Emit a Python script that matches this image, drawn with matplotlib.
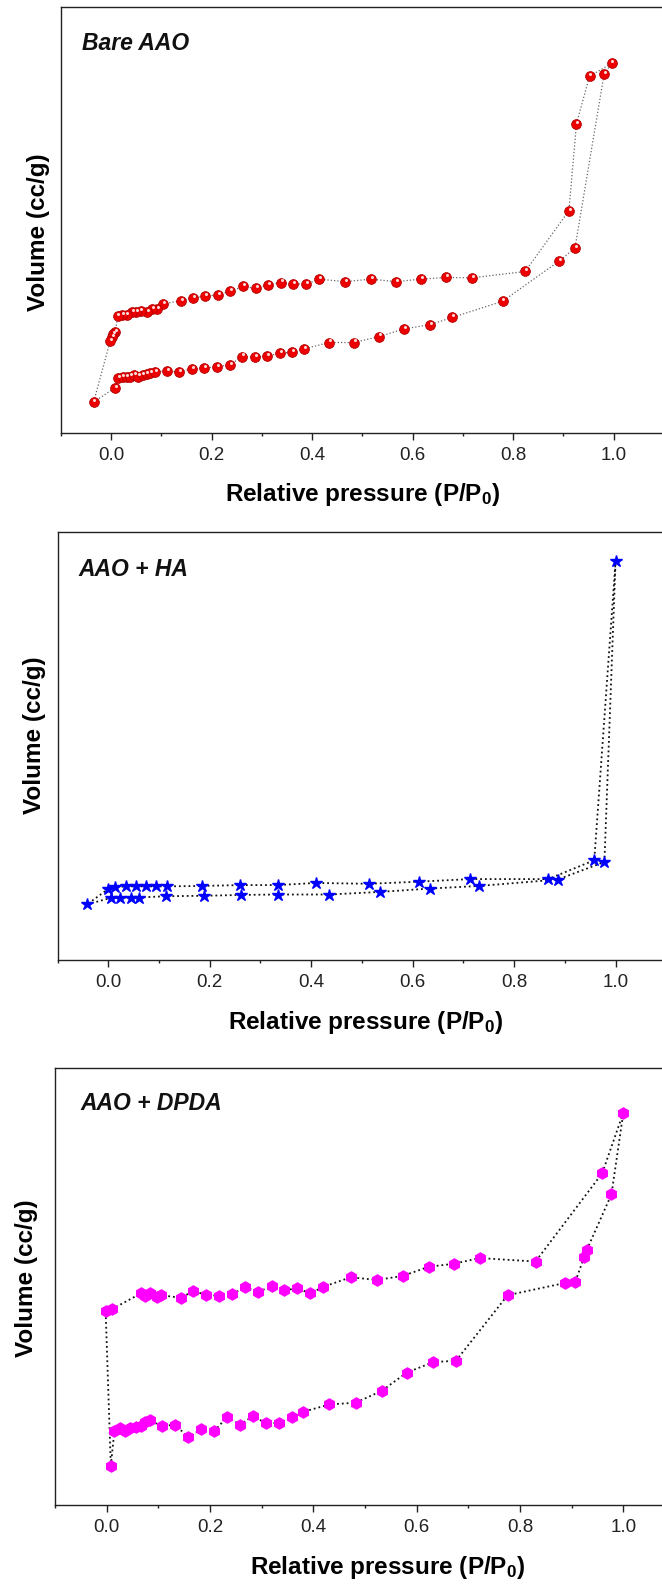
import matplotlib
matplotlib.use("Agg")
import matplotlib.pyplot as plt
from matplotlib.ticker import MultipleLocator, FormatStrFormatter
from matplotlib.transforms import offset_copy

# ---------------- data (relative pressure, volume in % of axis height) -------------
# Panel 1: Bare AAO
bare_ads_x = [-0.0345, 0.0086, 0.0146, 0.0232, 0.0312, 0.0378, 0.0458, 0.0544, 0.063, 0.071,
              0.0776, 0.087, 0.111, 0.136, 0.162, 0.186, 0.211, 0.237, 0.261, 0.286, 0.311,
              0.336, 0.361, 0.384, 0.434, 0.483, 0.534, 0.583, 0.635, 0.679, 0.779, 0.891,
              0.923, 0.981, 0.996]
bare_ads_y = [7.2, 10.6, 12.9, 13.0, 13.0, 13.2, 13.5, 13.2, 13.6, 13.8,
              14.0, 14.3, 14.5, 14.3, 15.0, 15.2, 15.5, 16.0, 17.9, 17.8, 18.0,
              18.7, 18.9, 19.7, 21.2, 21.2, 22.6, 24.4, 25.4, 27.1, 30.9, 40.3,
              43.4, 84.3, 86.8]
bare_des_x = [0.952, 0.926, 0.911, 0.824, 0.718, 0.666, 0.617, 0.567, 0.517, 0.466, 0.414,
              0.388, 0.363, 0.338, 0.312, 0.288, 0.263, 0.237, 0.213, 0.188, 0.163, 0.139,
              0.104, 0.0921, 0.0816, 0.0722, 0.059, 0.0497, 0.0418, 0.0312, 0.0219, 0.0133,
              0.0086, 0.0046, 0.0014, -0.0014]
bare_des_y = [83.8, 72.6, 52.2, 37.9, 36.4, 36.5, 36.1, 35.5, 36.1, 35.5, 36.1,
              34.9, 35.0, 35.3, 34.7, 33.9, 34.4, 33.2, 32.4, 32.1, 31.7, 31.0,
              30.3, 29.0, 29.1, 28.4, 28.7, 28.4, 28.4, 27.6, 27.6, 27.5,
              23.7, 23.1, 22.4, 21.6]

# Panel 2: AAO + HA
ha_ads_x = [-0.0416, 0.005, 0.023, 0.044, 0.061, 0.113, 0.188, 0.262, 0.334, 0.436, 0.535,
            0.635, 0.731, 0.886, 0.978, 1.0]
ha_ads_y = [13.0, 14.5, 14.6, 14.6, 14.6, 14.9, 15.0, 15.2, 15.3, 15.3, 15.9,
            16.7, 17.3, 18.8, 22.9, 93.2]
ha_des_x = [0.958, 0.867, 0.713, 0.612, 0.514, 0.41, 0.334, 0.260, 0.185, 0.115, 0.094,
            0.074, 0.054, 0.034, 0.013, 0.0]
ha_des_y = [23.3, 18.9, 18.9, 18.3, 17.8, 18.0, 17.5, 17.5, 17.3, 17.2, 17.2,
            17.2, 17.2, 17.2, 17.0, 16.6]

# Panel 3: AAO + DPDA
dp_ads_x = [0.008, 0.015, 0.025, 0.035, 0.045, 0.056, 0.066, 0.075, 0.083, 0.107, 0.132,
            0.158, 0.183, 0.208, 0.233, 0.258, 0.283, 0.309, 0.333, 0.359, 0.380, 0.431,
            0.482, 0.532, 0.581, 0.632, 0.676, 0.776, 0.887, 0.907, 0.924, 0.929, 0.977, 1.0]
dp_ads_y = [9.0, 17.0, 17.6, 16.9, 17.7, 17.8, 18.0, 19.0, 19.4, 18.0, 18.4,
            15.5, 17.3, 16.9, 20.1, 18.4, 20.3, 18.7, 18.8, 20.1, 21.3, 23.0,
            23.4, 26.1, 30.3, 32.7, 33.0, 48.0, 50.8, 51.1, 56.7, 58.3, 71.1, 89.8]
dp_des_x = [0.959, 0.830, 0.722, 0.672, 0.623, 0.573, 0.523, 0.472, 0.419, 0.394, 0.369,
            0.344, 0.319, 0.293, 0.268, 0.242, 0.218, 0.193, 0.168, 0.144, 0.105, 0.097,
            0.084, 0.075, 0.066, 0.010, -0.002]
dp_des_y = [75.9, 55.7, 56.5, 55.2, 54.5, 52.4, 51.5, 52.1, 49.9, 48.4, 49.6,
            49.1, 50.1, 48.7, 49.8, 48.2, 47.9, 48.0, 49.0, 47.4, 48.0, 47.7,
            48.4, 47.9, 48.4, 44.8, 44.3]

panel_labels = ["Bare AAO", "AAO + HA", "AAO + DPDA"]
x_tick_values = [0.0, 0.2, 0.4, 0.6, 0.8, 1.0]
xlabel_text = "Relative pressure (P/P$\\mathbf{_0}$)"
ylabel_text = "Volume (cc/g)"

# ---------------- figure ----------------
plt.rcParams['font.family'] = ['Liberation Sans', 'DejaVu Sans']
plt.rcParams['mathtext.fontset'] = 'custom'
plt.rcParams['mathtext.rm'] = 'Liberation Sans'
plt.rcParams['mathtext.bf'] = 'Liberation Sans:bold'

fig = plt.figure(figsize=(6.62, 15.85), dpi=100)

axes_pos = [
    [0.0917, 0.7270, 0.9112, 0.2684],
    [0.0869, 0.3943, 0.9196, 0.2702],
    [0.0831, 0.0505, 0.9366, 0.2757],
]
text_pos = [(0.036, 0.914), (0.034, 0.9115), (0.041, 0.918)]
ylab_pos = [(-0.0376, 0.4706), (-0.0386, 0.524), (-0.046, 0.52)]
xlab_pos = [(0.5007, -0.146), (0.506, -0.147), (0.536, -0.142)]

spine_col = '#222222'

def style_axes(ax, i):
    ax.set_xlim(-0.1, 1.1)
    ax.set_ylim(0, 100)
    ax.set_yticks([])
    ax.xaxis.set_major_locator(MultipleLocator(0.2))
    ax.xaxis.set_minor_locator(MultipleLocator(0.1))
    ax.xaxis.set_major_formatter(FormatStrFormatter('%.1f'))
    ax.tick_params(axis='x', which='major', direction='out', length=5, width=1.0,
                   pad=5, labelsize=13.5, colors=spine_col, labelcolor='#222222')
    ax.tick_params(axis='x', which='minor', direction='out', length=2.5, width=1.0,
                   colors=spine_col)
    for s in ax.spines.values():
        s.set_linewidth(1.0)
        s.set_color(spine_col)
    ax.set_xlabel(xlabel_text, fontsize=17.5, fontweight='bold', va='center')
    ax.xaxis.set_label_coords(*xlab_pos[i])
    ax.set_ylabel(ylabel_text, fontsize=17.5, fontweight='bold', va='center')
    ax.yaxis.set_label_coords(*ylab_pos[i])
    ax.text(text_pos[i][0], text_pos[i][1], panel_labels[i], transform=ax.transAxes,
            fontsize=16.5, fontweight='bold', fontstyle='italic', ha='left', va='center',
            color='#111111')

# Panel 1
ax1 = fig.add_axes(axes_pos[0])
line_x = bare_ads_x + bare_des_x + bare_ads_x[:1]
line_y = bare_ads_y + bare_des_y + bare_ads_y[:1]
ax1.plot(line_x, line_y, linestyle=':', color='#666666', linewidth=0.9, zorder=1)
mx = bare_ads_x + bare_des_x
my = bare_ads_y + bare_des_y
ax1.plot(mx, my, linestyle='none', marker='o', markersize=7, markerfacecolor='#ee0000',
         markeredgecolor='#b00000', markeredgewidth=0.6, zorder=2)
hl = offset_copy(ax1.transData, fig=fig, x=0.6, y=1.5, units='points')
ax1.plot(mx, my, linestyle='none', marker='o', markersize=2.2, markerfacecolor='white',
         markeredgecolor='none', alpha=0.85, transform=hl, zorder=3)
style_axes(ax1, 0)

# Panel 2
ax2 = fig.add_axes(axes_pos[1])
line_x = ha_ads_x + ha_des_x + ha_ads_x[:1]
line_y = ha_ads_y + ha_des_y + ha_ads_y[:1]
ax2.plot(line_x, line_y, linestyle=':', color='#111111', linewidth=1.3, zorder=1)
ax2.plot(ha_ads_x + ha_des_x, ha_ads_y + ha_des_y, linestyle='none', marker='*',
         markersize=9, markerfacecolor='#0000ff', markeredgecolor='#0000ff', zorder=2)
style_axes(ax2, 1)

# Panel 3
ax3 = fig.add_axes(axes_pos[2])
line_x = dp_ads_x + dp_des_x + dp_ads_x[:1]
line_y = dp_ads_y + dp_des_y + dp_ads_y[:1]
ax3.plot(line_x, line_y, linestyle=':', color='#111111', linewidth=1.3, zorder=1)
ax3.plot(dp_ads_x + dp_des_x, dp_ads_y + dp_des_y, linestyle='none', marker='h',
         markersize=8, markerfacecolor='#ff00ff', markeredgecolor='#ff00ff', zorder=2)
style_axes(ax3, 2)

fig.savefig("out.png", dpi=100)
